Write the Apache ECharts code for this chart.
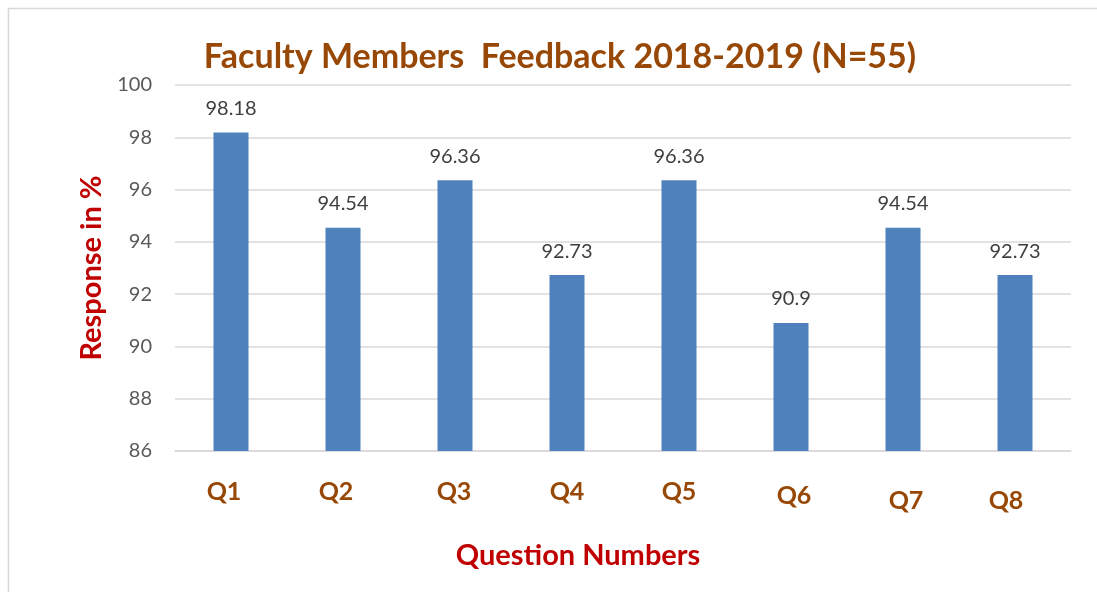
<!DOCTYPE html>
<html lang="en">
<head>
    <meta charset="utf-8"/>
    <title>Faculty Members Feedback</title>
    <script src="https://cdn.jsdelivr.net/npm/echarts@6/dist/echarts.min.js"></script>
</head>
<style>
    html, body { margin: 0; padding: 0; background: #fff; }
</style>
<body>
<div id="main" style="width: 1097px;height: 592px;"></div>
<script>
    // 题目与得分
    var questions = ['Q1', 'Q2', 'Q3', 'Q4', 'Q5', 'Q6', 'Q7', 'Q8'];
    var responses = [98.18, 94.54, 96.36, 92.73, 96.36, 90.9, 94.54, 92.73];
    var yTicks = [86, 88, 90, 92, 94, 96, 98, 100];

    // Q7/Q8 的标签在原图里略低一点
    var labelPads = [[0, 14, 0, 0], [0, 14, 0, 0], [0, 2, 0, 0], [0, 0, 0, 0],
        [0, 0, 0, 0], [4, 0, 0, 6], [9, 0, 0, 6], [9, 18, 0, 0]];

    var chartDom = document.getElementById('main');
    var myChart = echarts.init(chartDom);
    var option = {
        backgroundColor: '#fff',
        graphic: [{
            type: 'rect',
            shape: {x: 8.5, y: 8.5, width: 1100, height: 600},
            style: {fill: 'none', stroke: '#d9d9d9', lineWidth: 1.5}
        }],
        title: {
            text: 'Faculty Members  Feedback 2018-2019 (N=55)',
            left: 555,
            textAlign: 'center',
            top: 35,
            textStyle: {
                fontFamily: 'Lato',
                fontWeight: 'bold',
                fontSize: 34,
                color: '#984806'
            }
        },
        grid: {
            left: 175,
            right: 26,
            top: 85,
            bottom: 141,
            containLabel: false
        },
        xAxis: {
            type: 'category',
            data: questions.map(function (q, i) {
                return {value: q, textStyle: {padding: labelPads[i]}};
            }),
            name: 'Question Numbers',
            nameLocation: 'middle',
            nameGap: 90,
            nameTextStyle: {
                fontFamily: 'Lato',
                fontWeight: 'bold',
                fontSize: 29,
                color: '#c00000',
                padding: [0, 90, 0, 0]
            },
            axisLine: {lineStyle: {color: '#d9d9d9', width: 1.5}},
            axisTick: {show: false},
            axisLabel: {
                margin: 28,
                fontFamily: 'Lato',
                fontWeight: 'bold',
                fontSize: 25,
                color: '#984806'
            }
        },
        yAxis: {
            type: 'value',
            min: yTicks[0],
            max: yTicks[yTicks.length - 1],
            interval: 2,
            name: 'Response in %',
            nameLocation: 'middle',
            nameGap: 68,
            nameTextStyle: {
                fontFamily: 'Lato',
                fontWeight: 'bold',
                fontSize: 29,
                color: '#c00000'
            },
            axisLine: {show: false},
            axisTick: {show: false},
            splitLine: {lineStyle: {color: '#d9d9d9', width: 1.5}},
            axisLabel: {
                margin: 23,
                fontFamily: 'Lato',
                fontSize: 20,
                color: '#595959'
            }
        },
        series: [
            {
                type: 'bar',
                data: responses,
                barWidth: 35,
                itemStyle: {color: '#4f81bd'},
                label: {
                    show: true,
                    position: 'top',
                    distance: 14,
                    fontFamily: 'Lato',
                    fontSize: 20,
                    color: '#404040'
                }
            }
        ]
    };
    option && myChart.setOption(option);
</script>
</body>
</html>
